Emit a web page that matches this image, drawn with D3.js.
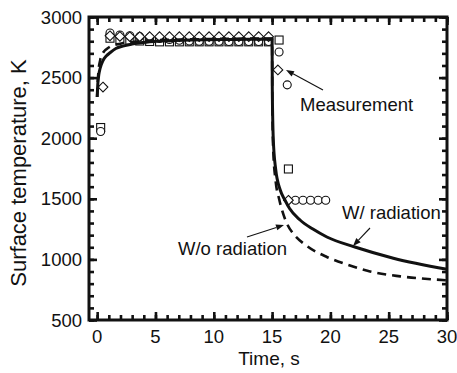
<!DOCTYPE html>
<html>
  <head>
    <title></title>
    <script src="https://cdnjs.cloudflare.com/ajax/libs/d3/7.8.5/d3.min.js"></script>
    <style type="text/css">
        html, body{
            padding: 0px;
            margin: 0px;
            background: #ffffff;
        }
        text{
            font-family: "Liberation Sans", Arial, sans-serif;
            fill: #111;
        }
    </style>
  </head>
  <body>
    <div id="vis"></div>
    <script type="text/javascript">

        // W/ radiation (solid) and W/o radiation (dashed) model curves
        var withTime = [0, 0.05, 0.15, 0.25, 0.5, 0.8, 1.1, 1.6, 2.2, 3, 3.7, 5.1, 8, 12, 15,
                        15.02, 15.1, 15.3, 15.7, 16.1, 16.5, 17.4, 18.5, 19.7, 22.1, 25.4, 30]
        var withTemp = [2340, 2440, 2530, 2575, 2640, 2680, 2705, 2740, 2760, 2777, 2788, 2800, 2810, 2815, 2818,
                        2400, 2000, 1750, 1573, 1490, 1420, 1325, 1250, 1185, 1102, 1010, 918]

        var withoutTime = [0, 0.05, 0.1, 0.25, 0.5, 1, 2, 4, 8, 15,
                           15.02, 15.1, 15.3, 15.6, 15.85, 16.3, 16.8, 18, 19.7, 21.5, 23.4, 26, 30]
        var withoutTemp = [2340, 2460, 2540, 2640, 2705, 2748, 2780, 2803, 2815, 2822,
                           2300, 1900, 1650, 1500, 1408, 1290, 1215, 1110, 1020, 955, 900, 860, 828]

        // measurements, three runs
        var circleTime = [0.3, 1.1, 1.95, 2.8, 3.65, 4.5, 5.35, 6.2, 7.05, 7.9, 8.75, 9.6, 10.45, 11.3, 12.15, 13.0, 13.85, 14.7,
                          15.6, 16.3, 17.0, 17.65, 18.3, 18.95, 19.6]
        var circleTemp = [2055, 2868, 2852, 2845, 2838, 2830, 2822, 2815, 2808, 2802, 2800, 2800, 2800, 2798, 2798, 2798, 2798, 2798,
                          2711, 2440, 1488, 1488, 1488, 1488, 1488]

        var squareTime = [0.3, 1.1, 1.95, 2.8, 3.65, 4.5, 5.35, 6.2, 7.05, 7.9, 8.75, 9.6, 10.45, 11.3, 12.15, 13.0, 13.85, 14.7,
                          15.6, 16.4]
        var squareTemp = [2088, 2825, 2815, 2808, 2802, 2798, 2795, 2795, 2795, 2795, 2795, 2795, 2795, 2795, 2795, 2795, 2795, 2795,
                          2810, 1746]

        var diamondTime = [0.5, 1.1, 1.95, 2.8, 3.65, 4.5, 5.35, 6.2, 7.05, 7.9, 8.75, 9.6, 10.45, 11.3, 12.15, 13.0, 13.85, 14.7,
                           15.5, 16.4]
        var diamondTemp = [2422, 2845, 2840, 2838, 2838, 2838, 2838, 2838, 2838, 2838, 2838, 2838, 2838, 2838, 2838, 2838, 2838, 2838,
                           2563, 1488]

        var xTicks = [0, 5, 10, 15, 20, 25, 30]
        var yTicks = [500, 1000, 1500, 2000, 2500, 3000]

        var width = 457,
            height = 373;

        // plot frame
        var pL = 89, pR = 447, pT = 17, pB = 320;

        var x = d3.scaleLinear().domain([-0.7, 30]).range([pL, pR]);
        var y = d3.scaleLinear().domain([500, 3000]).range([pB, pT]);

        var svg = d3.select("#vis").append("svg")
            .attr("width", width)
            .attr("height", height);

        function pairs(ts, vs){
            return ts.map(function(t, i){ return [t, vs[i]]; });
        }

        // markers
        var marks = svg.append("g")
            .attr("fill", "#fff")
            .attr("stroke", "#111")
            .attr("stroke-width", 1.1);

        marks.selectAll("rect.sq")
            .data(pairs(squareTime, squareTemp))
            .enter().append("rect")
            .attr("class", "sq")
            .attr("x", function(d){ return x(d[0]) - 4; })
            .attr("y", function(d){ return y(d[1]) - 4; })
            .attr("width", 8)
            .attr("height", 8);

        marks.selectAll("circle")
            .data(pairs(circleTime, circleTemp))
            .enter().append("circle")
            .attr("cx", function(d){ return x(d[0]); })
            .attr("cy", function(d){ return y(d[1]); })
            .attr("r", 4);

        marks.selectAll("path.dm")
            .data(pairs(diamondTime, diamondTemp))
            .enter().append("path")
            .attr("class", "dm")
            .attr("d", d3.symbol().type(d3.symbolDiamond2).size(60))
            .attr("transform", function(d){ return "translate(" + x(d[0]) + "," + y(d[1]) + ")"; });

        // model lines
        var line = d3.line()
            .x(function(d){ return x(d[0]); })
            .y(function(d){ return y(d[1]); })
            .curve(d3.curveMonotoneX);

        svg.append("path")
            .datum(pairs(withoutTime, withoutTemp))
            .attr("d", line)
            .attr("fill", "none")
            .attr("stroke", "#111")
            .attr("stroke-width", 2.6)
            .attr("stroke-dasharray", "9,6");

        svg.append("path")
            .datum(pairs(withTime, withTemp))
            .attr("d", line)
            .attr("fill", "none")
            .attr("stroke", "#111")
            .attr("stroke-width", 3);

        // axes, ticks inward on all sides
        var xMinor = d3.range(0, 31, 1), yMinor = d3.range(500, 3001, 100);

        function addAxis(axis, pos, ticks, size){
            svg.append("g")
                .attr("transform", pos)
                .call(axis.tickValues(ticks).tickSize(size).tickFormat(""))
                .call(function(g){
                    g.select(".domain").remove();
                    g.selectAll("line").attr("stroke", "#111").attr("stroke-width", 2.6);
                });
        }
        addAxis(d3.axisTop(x), "translate(0," + pB + ")", xMinor, 5);
        addAxis(d3.axisTop(x), "translate(0," + pB + ")", xTicks, 8);
        addAxis(d3.axisBottom(x), "translate(0," + pT + ")", xMinor, 5);
        addAxis(d3.axisBottom(x), "translate(0," + pT + ")", xTicks, 8);
        addAxis(d3.axisRight(y), "translate(" + pL + ",0)", yMinor, 5);
        addAxis(d3.axisRight(y), "translate(" + pL + ",0)", yTicks, 8);
        addAxis(d3.axisLeft(y), "translate(" + pR + ",0)", yMinor, 5);
        addAxis(d3.axisLeft(y), "translate(" + pR + ",0)", yTicks, 8);

        svg.append("rect")
            .attr("x", pL)
            .attr("y", pT)
            .attr("width", pR - pL)
            .attr("height", pB - pT)
            .attr("fill", "none")
            .attr("stroke", "#111")
            .attr("stroke-width", 3);

        // tick labels
        svg.selectAll("text.xt")
            .data(xTicks)
            .enter().append("text")
            .attr("class", "xt")
            .attr("x", function(d){ return x(d); })
            .attr("y", 343)
            .attr("text-anchor", "middle")
            .style("font-size", "18.5px")
            .text(function(d){ return d; });

        svg.selectAll("text.yt")
            .data(yTicks)
            .enter().append("text")
            .attr("class", "yt")
            .attr("x", 82)
            .attr("y", function(d){ return y(d) + 6.5; })
            .attr("text-anchor", "end")
            .style("font-size", "18.5px")
            .text(function(d){ return d; });

        svg.append("text")
            .attr("x", 269)
            .attr("y", 365)
            .attr("text-anchor", "middle")
            .style("font-size", "19px")
            .text("Time, s");

        svg.append("text")
            .attr("transform", "translate(26,173) rotate(-90)")
            .attr("text-anchor", "middle")
            .style("font-size", "22px")
            .text("Surface temperature, K");

        // annotations
        var notes = [
            {label: "Measurement", tx: 300, ty: 111, from: [323, 90], to: [286, 70]},
            {label: "W/ radiation", tx: 342, ty: 219, from: [370, 228], to: [353, 246]},
            {label: "W/o radiation", tx: 178, ty: 255, from: [247, 237], to: [284, 225]}
        ];

        notes.forEach(function(n){
            svg.append("text")
                .attr("x", n.tx)
                .attr("y", n.ty)
                .style("font-size", "18.5px")
                .text(n.label);

            var dx = n.to[0] - n.from[0], dy = n.to[1] - n.from[1];
            var len = Math.sqrt(dx * dx + dy * dy), ux = dx / len, uy = dy / len;
            var hl = 8, hw = 3;
            var bx = n.to[0] - ux * hl, by = n.to[1] - uy * hl;

            svg.append("line")
                .attr("x1", n.from[0]).attr("y1", n.from[1])
                .attr("x2", bx).attr("y2", by)
                .attr("stroke", "#111")
                .attr("stroke-width", 1.1);

            svg.append("path")
                .attr("d", "M" + n.to[0] + "," + n.to[1] +
                    "L" + (bx - uy * hw) + "," + (by + ux * hw) +
                    "L" + (bx + uy * hw) + "," + (by - ux * hw) + "Z")
                .attr("fill", "#111");
        });

    </script>
  </body>
</html>
